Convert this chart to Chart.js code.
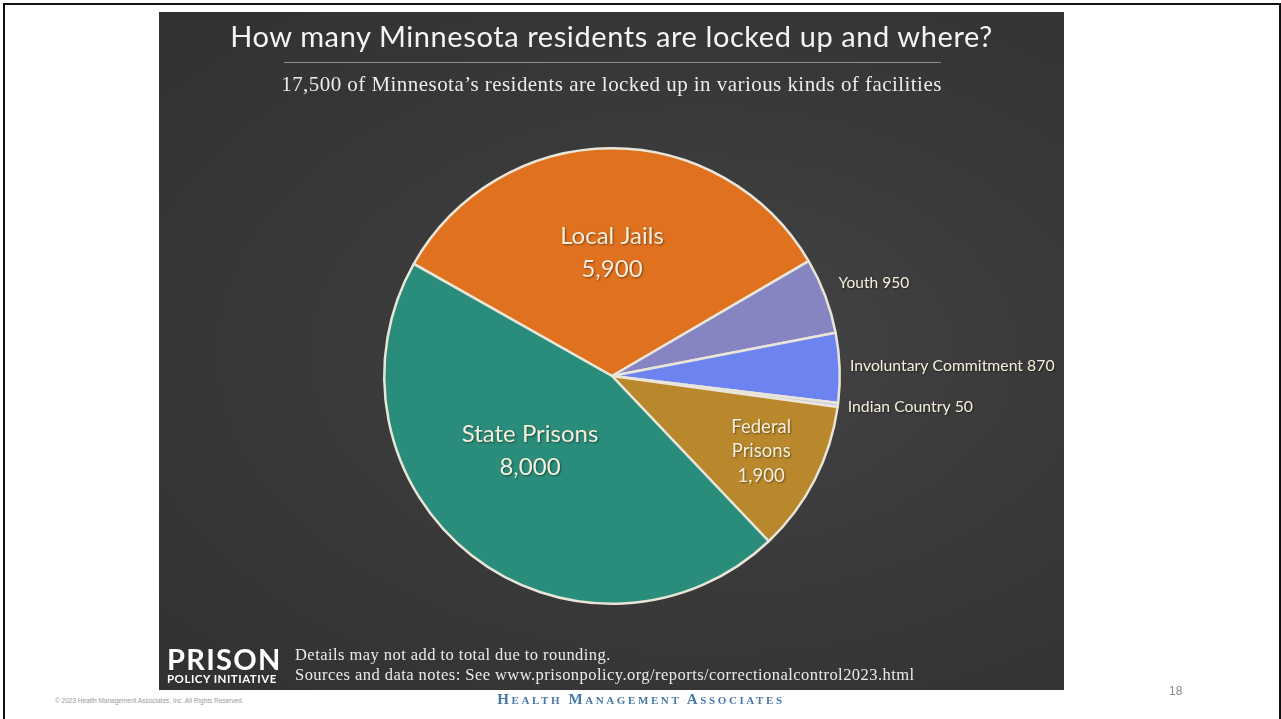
<!DOCTYPE html>
<html>
<head>
<meta charset="utf-8">
<script src="https://cdn.jsdelivr.net/npm/chart.js@4.4.0/dist/chart.umd.min.js"></script>
<style>
  html, body { margin: 0; padding: 0; background: #fff; width: 1281px; height: 719px; overflow: hidden; }
  #frame { position: absolute; left: 3px; top: 3px; width: 1274px; height: 730px; border: 2px solid #111; }
  #panel {
    position: absolute; left: 159px; top: 12px; width: 905px; height: 678px;
    background: radial-gradient(ellipse at 60% 50%, #454547 0%, #3a3a3b 45%, #313131 100%);
  }
  #chart { position: absolute; left: 0; top: 0; }
  .title { position: absolute; left: 0; width: 905px; top: 6px; text-align: center;
    font-family: Lato, sans-serif; font-size: 29px; color: #f4f4f2; letter-spacing: 0.6px; }
  .rule { position: absolute; left: 125px; width: 657px; top: 50px; height: 1px; background: #8d8d8d; }
  .sub { position: absolute; left: 0; width: 905px; top: 60px; text-align: center;
    font-family: "Liberation Serif", serif; font-size: 21px; color: #ecebe8; letter-spacing: 0.45px; }
  .logo1 { position: absolute; left: 8px; top: 629px; font-family: Lato, sans-serif; font-weight: 700;
    font-size: 29px; color: #fff; letter-spacing: 1.3px; }
  .logo2 { position: absolute; left: 8px; top: 660px; font-family: Lato, sans-serif; font-weight: 700;
    font-size: 11.5px; color: #fff; letter-spacing: 0.5px; }
  .notes { position: absolute; left: 136px; top: 633px; font-family: "Liberation Serif", serif;
    font-size: 16.5px; line-height: 20px; color: #ecebe8; letter-spacing: 0.45px; }
  .copy { position: absolute; left: 55px; top: 697px; font-family: "Liberation Sans", sans-serif; font-size: 6.5px; color: #999; }
  .hma { position: absolute; left: 0; width: 1282px; top: 691px; text-align: center; font-family: "Liberation Serif", serif;
    font-size: 15px; color: #4878a8; letter-spacing: 2.6px; font-variant: small-caps; font-weight: 700; }
  .page { position: absolute; left: 1169px; top: 684px; font-family: "Liberation Sans", sans-serif; font-size: 12px; color: #888; }
</style>
</head>
<body>
<div id="frame"></div>
<div id="panel">
  <canvas id="chart" width="905" height="678"></canvas>
  <div class="title">How many Minnesota residents are locked up and where?</div>
  <div class="rule"></div>
  <div class="sub">17,500 of Minnesota’s residents are locked up in various kinds of facilities</div>
  <div class="logo1">PRISON</div>
  <div class="logo2">POLICY INITIATIVE</div>
  <div class="notes">Details may not add to total due to rounding.<br>Sources and data notes: See www.prisonpolicy.org/reports/correctionalcontrol2023.html</div>
</div>
<div class="copy">© 2023 Health Management Associates, Inc. All Rights Reserved.</div>
<div class="hma">Health Management Associates</div>
<div class="page">18</div>

<script>
// Facilities, in clockwise order from the Local Jails / State Prisons edge
const facilities = ['Local Jails', 'Youth', 'Involuntary Commitment', 'Indian Country', 'Federal Prisons', 'State Prisons'];
const residents = [5900, 950, 870, 50, 1900, 8000];
const valueLabels = ['5,900', '950', '870', '50', '1,900', '8,000'];

const sliceColors = ['#e0721f', '#8784c2', '#6d83ef', '#c6c6ee', '#b9882c', '#2a8d7b'];

// label placement relative to pie centre, as fractions of the radius
const labelSpots = [
    { fx: 0, fy: -0.54, lines: ['Local Jails', '5,900'], size: 24, gap: 33, align: 'center' },
    { fx: 0.995, fy: -0.41, lines: ['Youth 950'], size: 15.5, align: 'left' },
    { fx: 1.045, fy: -0.045, lines: ['Involuntary Commitment 870'], size: 15.8, align: 'left' },
    { fx: 1.035, fy: 0.135, lines: ['Indian Country 50'], size: 15.8, align: 'left' },
    { fx: 0.655, fy: 0.33, lines: ['Federal', 'Prisons', '1,900'], size: 18.5, gap: 24.5, align: 'center' },
    { fx: -0.36, fy: 0.33, lines: ['State Prisons', '8,000'], size: 24, gap: 33, align: 'center' }
];

const sliceLabels = {
    id: 'sliceLabels',
    afterDatasetsDraw(chart) {
        const ctx = chart.ctx;
        const arcs = chart.getDatasetMeta(0).data;
        ctx.save();
        arcs.forEach(function(arc, i) {
            const spot = labelSpots[i];
            const r = arc.outerRadius;
            const cx = arc.x + spot.fx * r;
            const cy = arc.y + spot.fy * r;
            const gap = spot.gap || 0;
            const top = cy - gap * (spot.lines.length - 1) / 2;
            ctx.font = spot.size + 'px Lato, sans-serif';
            ctx.textAlign = spot.align;
            ctx.textBaseline = 'middle';
            ctx.fillStyle = '#f5eedb';
            ctx.shadowColor = 'rgba(0,0,0,0.45)';
            ctx.shadowBlur = 2;
            ctx.shadowOffsetX = 1;
            ctx.shadowOffsetY = 1;
            spot.lines.forEach(function(line, k) {
                ctx.fillText(line, cx, top + k * gap);
            });
        });
        ctx.restore();
    }
};

new Chart(document.getElementById('chart'), {
    type: 'pie',
    data: {
        labels: facilities,
        datasets: [{
            data: residents,
            backgroundColor: sliceColors,
            borderColor: '#e9e5d8',
            borderWidth: 2.5
        }]
    },
    options: {
        responsive: false,
        animation: false,
        rotation: -60.5,
        layout: { padding: { top: 135, bottom: 85, left: 224, right: 223 } },
        plugins: {
            legend: { display: false },
            tooltip: { enabled: false }
        }
    },
    plugins: [sliceLabels]
});
</script>
</body>
</html>
